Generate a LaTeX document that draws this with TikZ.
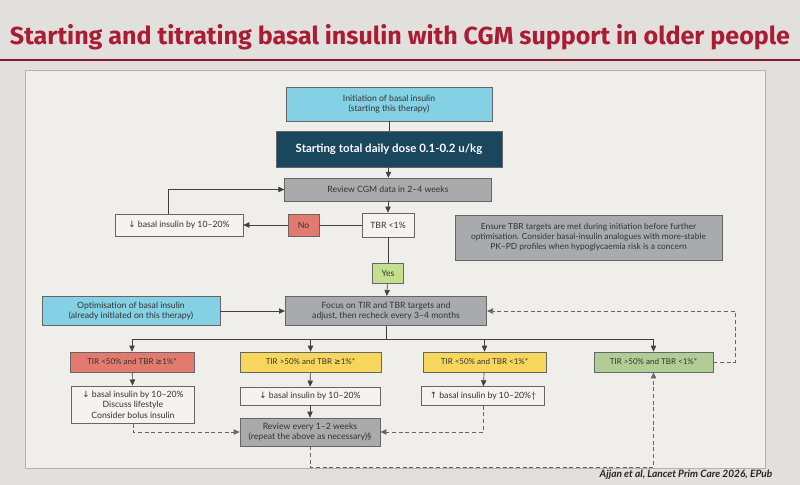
\documentclass[tikz,border=0pt]{standalone}
\usepackage{fontspec}
\setmainfont{Lato}
\newfontfamily\titlefont{Fira Sans}
\newfontfamily\symfont{DejaVu Sans}
\usetikzlibrary{arrows.meta}

\definecolor{bgcol}{RGB}{226,224,220}
\definecolor{panelcol}{RGB}{239,238,235}
\definecolor{titlered}{RGB}{170,28,52}
\definecolor{cyanfill}{RGB}{132,208,228}
\definecolor{tealfill}{RGB}{26,70,94}
\definecolor{grayfill}{RGB}{168,170,172}
\definecolor{redfill}{RGB}{226,122,112}
\definecolor{yesfill}{RGB}{196,224,142}
\definecolor{yellowfill}{RGB}{246,214,92}
\definecolor{greenfill}{RGB}{178,204,150}
\definecolor{whitefill}{RGB}{244,243,241}

\newcommand{\dnsym}{{\symfont ↓}}
\newcommand{\upsym}{{\symfont ↑}}
\newcommand{\gesym}{{\symfont ≥}}

\begin{document}
\begin{tikzpicture}[
  x=0.75pt, y=-0.75pt,
  box/.style={draw=black!60, line width=0.5pt, align=center, inner sep=1pt,
    text=black!80, font=\fontsize{6.5}{7.8}\selectfont},
  cyanbox/.style={box, fill=cyanfill},
  graybox/.style={box, fill=grayfill},
  whitebox/.style={box, fill=whitefill},
  catbox/.style={box, minimum height=15pt, font=\fontsize{6}{7}\selectfont},
  arr/.style={draw=black!75, line width=0.5pt, -{Triangle[length=4.5pt,width=4pt]}},
  dashedarr/.style={arr, densely dashed, draw=black!60},
  plain/.style={draw=black!75, line width=0.5pt}
]
\fill[bgcol] (0,0) rectangle (800,485);
\useasboundingbox (0,0) rectangle (800,485);

% title
\node[text=titlered, inner sep=0pt] (title) at (400,37)
  {\resizebox{585pt}{15pt}{\titlefont\bfseries Starting and titrating basal insulin with CGM support in older people}};
\draw[titlered!80!black, line width=1.2pt] (0,60) -- (800,60);
\filldraw[fill=panelcol, draw=black!30] (25,70) rectangle (765,468);

% start
\node[cyanbox, minimum width=154.5pt, minimum height=25.5pt] (init) at (389,104)
  {Initiation of basal insulin\\(starting this therapy)};
\node[box, fill=tealfill, text=white, minimum width=169.5pt, minimum height=27pt,
  font=\fontsize{8.6}{10}\selectfont\bfseries] (dose) at (389,149)
  {Starting total daily dose 0.1-0.2 u/kg};
\node[graybox, minimum width=155pt, minimum height=17pt] (review) at (388,189.5)
  {Review CGM data in 2--4 weeks};

% TBR check
\node[whitebox, minimum width=39pt, minimum height=18pt] (tbr) at (388,225)
  {TBR <1\%};
\node[box, fill=redfill, minimum width=23pt, minimum height=16.5pt] (no) at (303.5,225)
  {No};
\node[whitebox, minimum width=96pt, minimum height=16.5pt] (dec) at (179,225)
  {\dnsym\ basal insulin by 10--20\%};
\node[graybox, minimum width=200pt, minimum height=34pt, font=\fontsize{6.3}{7.5}\selectfont] (note) at (588.5,237.5)
  {Ensure TBR targets are met during initiation before further\\optimisation. Consider basal-insulin analogues with more-stable\\PK--PD profiles when hypoglycaemia risk is a concern};
\node[box, fill=yesfill, minimum width=23pt, minimum height=15pt] (yes) at (388,273)
  {Yes};

% optimisation
\node[cyanbox, minimum width=133.5pt, minimum height=22pt] (optim) at (131,311)
  {Optimisation of basal insulin\\(already initiated on this therapy)};
\node[graybox, minimum width=151pt, minimum height=22pt] (focus) at (386,311)
  {Focus on TIR and TBR targets and\\adjust, then recheck every 3--4 months};

% TIR / TBR categories
\node[catbox, fill=redfill, minimum width=93pt] (cat1) at (132,362)
  {TIR <50\% and TBR \gesym1\%*};
\node[catbox, fill=yellowfill, minimum width=106pt] (cat2) at (310.5,362)
  {TIR >50\% and TBR \gesym1\%*};
\node[catbox, fill=yellowfill, minimum width=92pt] (cat3) at (484.5,362)
  {TIR <50\% and TBR <1\%*};
\node[catbox, fill=greenfill, minimum width=89pt] (cat4) at (653.5,362)
  {TIR >50\% and TBR <1\%*};

% actions
\node[whitebox, minimum width=92pt, minimum height=28pt] (act1) at (133,404.5)
  {\dnsym\ basal insulin by 10--20\%\\Discuss lifestyle\\Consider bolus insulin};
\node[whitebox, minimum width=105pt, minimum height=13.5pt] (act2) at (310,396)
  {\dnsym\ basal insulin by 10--20\%};
\node[whitebox, minimum width=92pt, minimum height=14pt] (act3) at (483,396)
  {\upsym\ basal insulin by 10--20\%\textdagger};
\node[graybox, minimum width=105pt, minimum height=21pt] (rev2) at (310,432)
  {Review every 1--2 weeks\\(repeat the above as necessary)\textsection};

\node[font=\fontsize{7.6}{9}\selectfont\bfseries\itshape, text=black!85] (cite) at (686,475)
  {Ajjan et al, Lancet Prim Care 2026, EPub};

% connectors
\coordinate (decup) at (168,0);
\coordinate (split) at (386,339);
\coordinate (loopr) at (735,0);
\coordinate (bot) at (0,467);
\draw[plain] (init) -- (dose);
\draw[arr] (dose) -- (review);
\draw[arr] (review) -- (tbr);
\draw[plain] (tbr) -- (no);
\draw[arr] (no) -- (dec);
\draw[arr] (dec.north -| decup) |- (review.west);
\draw[plain] (tbr) -- (yes);
\draw[arr] (yes) -- (focus);
\draw[arr] (optim) -- (focus);
\draw[plain] (focus) -- (split);
\draw[arr] (split) -| (cat1);
\draw[arr] (split) -| (cat2);
\draw[arr] (split) -| (cat3);
\draw[arr] (split) -| (cat4);
\draw[arr] (cat1) -- (act1);
\draw[arr] (cat2) -- (act2);
\draw[arr] (cat3) -- (act3);
\draw[arr] (act2) -- (rev2);
\draw[dashedarr] (act1.south) |- (rev2.west);
\draw[dashedarr] (act3.south) |- (rev2.east);
\draw[dashedarr] (rev2.south) -- (rev2.south |- bot) -| (cat4.south);
\draw[dashedarr] (cat4.east) -- (cat4.east -| loopr) |- (focus.east);
\end{tikzpicture}
\end{document}
